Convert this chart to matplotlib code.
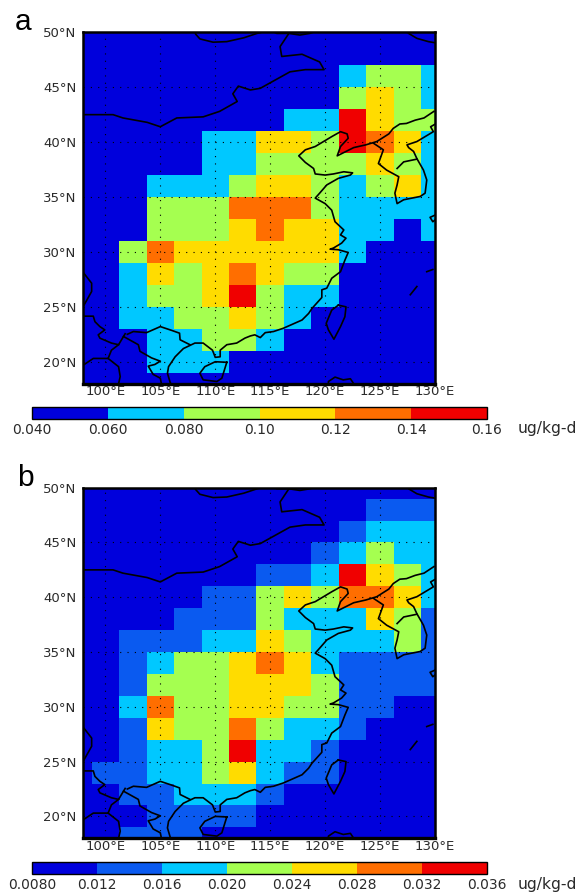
import numpy as np
import matplotlib
matplotlib.use('Agg')
import matplotlib.pyplot as plt
from matplotlib.colors import ListedColormap, BoundaryNorm

plt.rcParams['font.family'] = ['DejaVu Sans']

W, H = 584, 894

# model grid, 2.5 x 2 degrees
lon_centers = [97.5, 100, 102.5, 105, 107.5, 110, 112.5, 115, 117.5, 120, 122.5, 125, 127.5, 130]
lat_centers = [50, 48, 46, 44, 42, 40, 38, 36, 34, 32, 30, 28, 26, 24, 22, 20, 18]
lon_ticks = [100, 105, 110, 115, 120, 125, 130]
lon_labels = ['100°E', '105°E', '110°E', '115°E', '120°E', '125°E', '130°E']
lat_ticks = [20, 25, 30, 35, 40, 45, 50]
lat_labels = ['20°N', '25°N', '30°N', '35°N', '40°N', '45°N', '50°N']

# panel a, north to south
values_a = [
    [.05, .05, .05, .05, .05, .05, .05, .05, .05, .05, .05, .05, .05, .05],
    [.05, .05, .05, .05, .05, .05, .05, .05, .05, .05, .05, .05, .05, .05],
    [.05, .05, .05, .05, .05, .05, .05, .05, .05, .05, .07, .09, .09, .07],
    [.05, .05, .05, .05, .05, .05, .05, .05, .05, .05, .09, .11, .09, .07],
    [.05, .05, .05, .05, .05, .05, .05, .05, .07, .07, .15, .11, .09, .09],
    [.05, .05, .05, .05, .05, .07, .07, .11, .11, .09, .15, .13, .11, .07],
    [.05, .05, .05, .05, .05, .07, .07, .09, .09, .09, .09, .11, .09, .07],
    [.05, .05, .05, .07, .07, .07, .09, .11, .11, .09, .07, .09, .11, .07],
    [.05, .05, .05, .09, .09, .09, .13, .13, .13, .09, .07, .07, .07, .07],
    [.05, .05, .05, .09, .09, .09, .11, .13, .11, .11, .07, .07, .05, .07],
    [.05, .05, .09, .13, .11, .11, .11, .11, .11, .11, .07, .05, .05, .05],
    [.05, .05, .07, .11, .09, .11, .13, .11, .09, .09, .05, .05, .05, .05],
    [.05, .05, .07, .09, .09, .11, .15, .09, .07, .07, .05, .05, .05, .05],
    [.05, .05, .07, .07, .09, .09, .11, .09, .07, .05, .05, .05, .05, .05],
    [.05, .05, .05, .07, .07, .09, .09, .07, .05, .05, .05, .05, .05, .05],
    [.05, .05, .05, .07, .07, .07, .05, .05, .05, .05, .05, .05, .05, .05],
    [.05, .05, .05, .05, .05, .05, .05, .05, .05, .05, .05, .05, .05, .05],
]

# panel b, north to south
values_b = [
    [.010, .010, .010, .010, .010, .010, .010, .010, .010, .010, .010, .010, .010, .010],
    [.010, .010, .010, .010, .010, .010, .010, .010, .010, .010, .010, .014, .014, .014],
    [.010, .010, .010, .010, .010, .010, .010, .010, .010, .010, .014, .018, .018, .018],
    [.010, .010, .010, .010, .010, .010, .010, .010, .010, .014, .018, .022, .018, .018],
    [.010, .010, .010, .010, .010, .010, .010, .014, .014, .018, .034, .026, .022, .018],
    [.010, .010, .010, .010, .010, .014, .014, .022, .026, .022, .030, .030, .026, .018],
    [.010, .010, .010, .010, .014, .014, .014, .022, .018, .018, .018, .026, .022, .014],
    [.010, .010, .014, .014, .014, .018, .018, .026, .022, .018, .018, .018, .022, .014],
    [.010, .010, .014, .018, .022, .022, .026, .030, .026, .018, .014, .014, .014, .014],
    [.010, .010, .014, .022, .022, .022, .026, .026, .026, .022, .014, .014, .014, .014],
    [.010, .010, .018, .030, .022, .022, .026, .026, .022, .022, .014, .014, .010, .010],
    [.010, .010, .014, .026, .022, .022, .030, .022, .018, .018, .014, .010, .010, .010],
    [.010, .010, .014, .018, .018, .022, .034, .018, .018, .014, .010, .010, .010, .010],
    [.010, .014, .014, .018, .018, .022, .026, .018, .014, .014, .010, .010, .010, .010],
    [.010, .010, .014, .014, .018, .018, .018, .014, .010, .010, .010, .010, .010, .010],
    [.010, .010, .010, .014, .014, .014, .014, .010, .010, .010, .010, .010, .010, .010],
    [.010, .010, .014, .014, .014, .010, .010, .010, .010, .010, .010, .010, .010, .010],
]

levels_a = [0.04, 0.06, 0.08, 0.10, 0.12, 0.14, 0.16]
labels_a = ['0.040', '0.060', '0.080', '0.10', '0.12', '0.14', '0.16']
colors_a = ['#0000dc', '#00c8ff', '#a5ff50', '#ffdc00', '#ff6e00', '#f00000']

levels_b = [0.008, 0.012, 0.016, 0.020, 0.024, 0.028, 0.032, 0.036]
labels_b = ['0.0080', '0.012', '0.016', '0.020', '0.024', '0.028', '0.032', '0.036']
colors_b = ['#0000dc', '#0a5af0', '#00c8ff', '#a5ff50', '#ffdc00', '#ff6e00', '#f00000']

# map outlines as (lon, lat)
outlines = [
    # Mongolia
    [(98.0, 42.5), (100.7, 42.5), (101.6, 42.2), (103.8, 41.8), (105.0, 41.4), (106.5, 42.2), (108.9, 42.3),
     (110.4, 42.8), (112.0, 43.7), (111.6, 44.4), (112.1, 45.1), (113.2, 44.75), (114.1, 44.9), (115.0, 45.4),
     (116.8, 46.4), (118.2, 46.6), (119.9, 46.6), (119.5, 47.3), (117.9, 48.0), (116.05, 47.8), (115.9, 48.7),
     (116.7, 49.9), (116.8, 50.0)],
    [(108.2, 50.0), (108.2, 49.85), (108.6, 49.4), (109.8, 49.1), (111.05, 49.15), (112.6, 49.5), (113.8, 49.9),
     (114.2, 50.0)],
    [(115.4, 50.0), (115.6, 49.9), (116.7, 49.9), (117.7, 49.75), (118.6, 49.9), (118.9, 50.0)],
    [(127.5, 50.0), (127.6, 49.9), (128.35, 49.45), (129.4, 49.15), (130.0, 49.05)],
    # mainland coast
    [(129.9, 42.8), (129.0, 42.2), (128.2, 42.0), (127.4, 41.7), (126.8, 41.65), (126.2, 41.25), (125.8, 40.75),
     (124.7, 40.05), (123.7, 39.75), (122.6, 39.5), (122.0, 39.2), (121.1, 38.75), (121.4, 39.6), (122.1, 40.35),
     (122.0, 40.75), (121.4, 40.95), (120.6, 40.5), (119.85, 40.05), (119.1, 39.6), (118.2, 39.3), (117.6, 38.75),
     (118.2, 38.15), (118.95, 37.6), (119.1, 37.1), (120.0, 37.0), (120.75, 37.1), (121.7, 37.3), (122.5, 37.2),
     (122.3, 37.0), (121.2, 36.7), (120.15, 36.1), (119.5, 35.35), (119.1, 34.9), (120.0, 34.4), (120.6, 33.8),
     (120.9, 32.75), (121.7, 32.0), (121.4, 31.55), (121.9, 31.25), (121.5, 30.8), (120.75, 30.35), (120.45, 30.25),
     (121.2, 30.2), (122.1, 29.95), (121.8, 29.25), (121.4, 28.2), (120.6, 27.6), (120.15, 26.7), (119.7, 26.55),
     (119.7, 25.85), (118.8, 24.85), (118.5, 24.4), (117.9, 23.8), (116.2, 23.05), (115.3, 22.75), (114.55, 22.65),
     (114.1, 22.2), (113.6, 22.45), (113.2, 22.35), (112.7, 22.15), (111.95, 21.7), (111.05, 21.55), (110.45, 21.05),
     (110.45, 20.45), (110.0, 20.4), (109.75, 21.05), (108.9, 21.7), (108.15, 21.7), (107.1, 21.2), (106.35, 20.45),
     (105.75, 19.55), (105.65, 18.95), (105.9, 18.1), (106.2, 17.7)],
    # Hainan
    [(111.05, 19.95), (110.0, 20.0), (109.05, 19.55), (108.6, 18.95), (108.9, 18.35), (110.15, 18.2), (110.6, 18.5),
     (111.05, 19.95)],
    # Taiwan
    [(121.2, 25.15), (121.9, 25.0), (121.8, 24.1), (121.4, 23.2), (120.8, 22.05), (120.3, 22.9), (120.1, 23.5),
     (120.6, 24.7), (121.2, 25.15)],
    # Korea
    [(129.95, 41.6), (129.6, 41.4), (129.85, 40.95), (128.35, 40.05), (127.45, 39.75), (127.6, 39.5), (128.05, 39.15),
     (128.35, 38.5), (128.95, 37.45), (129.25, 36.55), (129.1, 35.35), (128.65, 35.05), (127.15, 34.75), (126.55, 34.4),
     (126.35, 35.35), (126.55, 36.1), (126.7, 36.85), (125.6, 37.45), (124.85, 38.05), (125.3, 39.3), (124.4, 39.9)],
    [(126.55, 37.6), (127.15, 38.2), (128.35, 38.45)],
    # land borders in the south west
    [(102.0, 22.5), (102.55, 22.75), (103.75, 22.65), (105.0, 23.2), (106.05, 22.85), (106.75, 22.6), (106.8, 22.0),
     (107.7, 21.55)],
    [(98.0, 24.15), (98.9, 24.15), (99.05, 23.65), (99.5, 23.2), (99.95, 22.9), (99.35, 22.45), (99.5, 22.15),
     (100.55, 21.7), (101.2, 21.55), (101.8, 22.55)],
    [(101.2, 21.55), (100.55, 21.05), (100.25, 20.3), (98.9, 20.3), (98.0, 19.7)],
    [(100.25, 20.3), (101.2, 19.55), (101.35, 18.65), (101.2, 18.0)],
    [(101.65, 22.3), (103.0, 21.55), (103.15, 20.95), (104.2, 20.35), (105.0, 20.05), (104.5, 19.75), (103.9, 19.6),
     (104.35, 18.85), (105.0, 18.5), (105.1, 18.0)],
    [(98.05, 28.05), (98.75, 27.15), (98.75, 26.4), (98.05, 25.15)],
    # islands on the east side
    [(127.75, 26.1), (128.35, 26.85)],
    [(129.25, 28.2), (129.8, 28.4)],
    [(130.0, 33.35), (129.55, 33.15), (129.8, 32.75), (130.0, 32.9)],
    [(120.3, 18.0), (120.3, 18.2), (120.9, 18.6), (121.65, 18.35), (122.3, 18.45), (122.6, 18.0)],
]


def px_axes(fig, left, top, right, bottom):
    return fig.add_axes([left / W, 1 - bottom / H, (right - left) / W, (bottom - top) / H])


def draw_panel(fig, values, levels, labels, colors, box, cbar_box, letter, letter_x, letter_y, cbar_label_y):
    cmap = ListedColormap(colors)
    norm = BoundaryNorm(levels, cmap.N)

    ax = px_axes(fig, *box)
    lon_edges = np.array(lon_centers + [132.5]) - 1.25
    lat_edges = np.array(lat_centers + [16]) + 1
    ax.pcolormesh(lon_edges, lat_edges, np.array(values), cmap=cmap, norm=norm)
    ax.set_xlim(98, 130)
    ax.set_ylim(18, 50)

    ax.set_xticks(lon_ticks)
    ax.set_xticklabels(lon_labels)
    ax.set_yticks(lat_ticks)
    ax.set_yticklabels(lat_labels)
    ax.tick_params(length=0, labelsize=9.5, labelcolor='#2a2a2a', pad=5)
    ax.tick_params(axis='x', pad=1)
    ax.grid(True, color='black', linewidth=0.8, linestyle=(0, (1, 5.6)))
    ax.set_axisbelow(False)

    for line in outlines:
        pts = np.array(line)
        ax.plot(pts[:, 0], pts[:, 1], color='black', linewidth=1.2, solid_joinstyle='round')

    for spine in ax.spines.values():
        spine.set_linewidth(1.8)
    ax.spines['bottom'].set_linewidth(2.4)

    cax = px_axes(fig, *cbar_box)
    sm = plt.cm.ScalarMappable(cmap=cmap, norm=norm)
    cb = fig.colorbar(sm, cax=cax, orientation='horizontal', ticks=levels, spacing='proportional')
    cb.ax.set_xticklabels(labels)
    cb.ax.tick_params(length=0, labelsize=10, labelcolor='#2a2a2a', pad=3)
    cb.outline.set_linewidth(1.0)

    fig.text(518 / W, 1 - cbar_label_y / H, 'ug/kg-d', fontsize=11.2, color='#2a2a2a', va='center', ha='left')
    fig.text(letter_x / W, 1 - letter_y / H, letter, fontsize=21.5, color='black', va='baseline', ha='left',
             family='Liberation Sans')


fig = plt.figure(figsize=(W / 100, H / 100), dpi=100)

draw_panel(fig, values_a, levels_a, labels_a, colors_a, (83.4, 32.3, 435, 383.7), (32, 407, 487, 419), 'a', 15, 30.5, 429)
draw_panel(fig, values_b, levels_b, labels_b, colors_b, (83.4, 487.7, 435, 838.3), (32, 862, 487, 874), 'b', 17, 486.5, 884)

plt.savefig('out.png', dpi=100)
